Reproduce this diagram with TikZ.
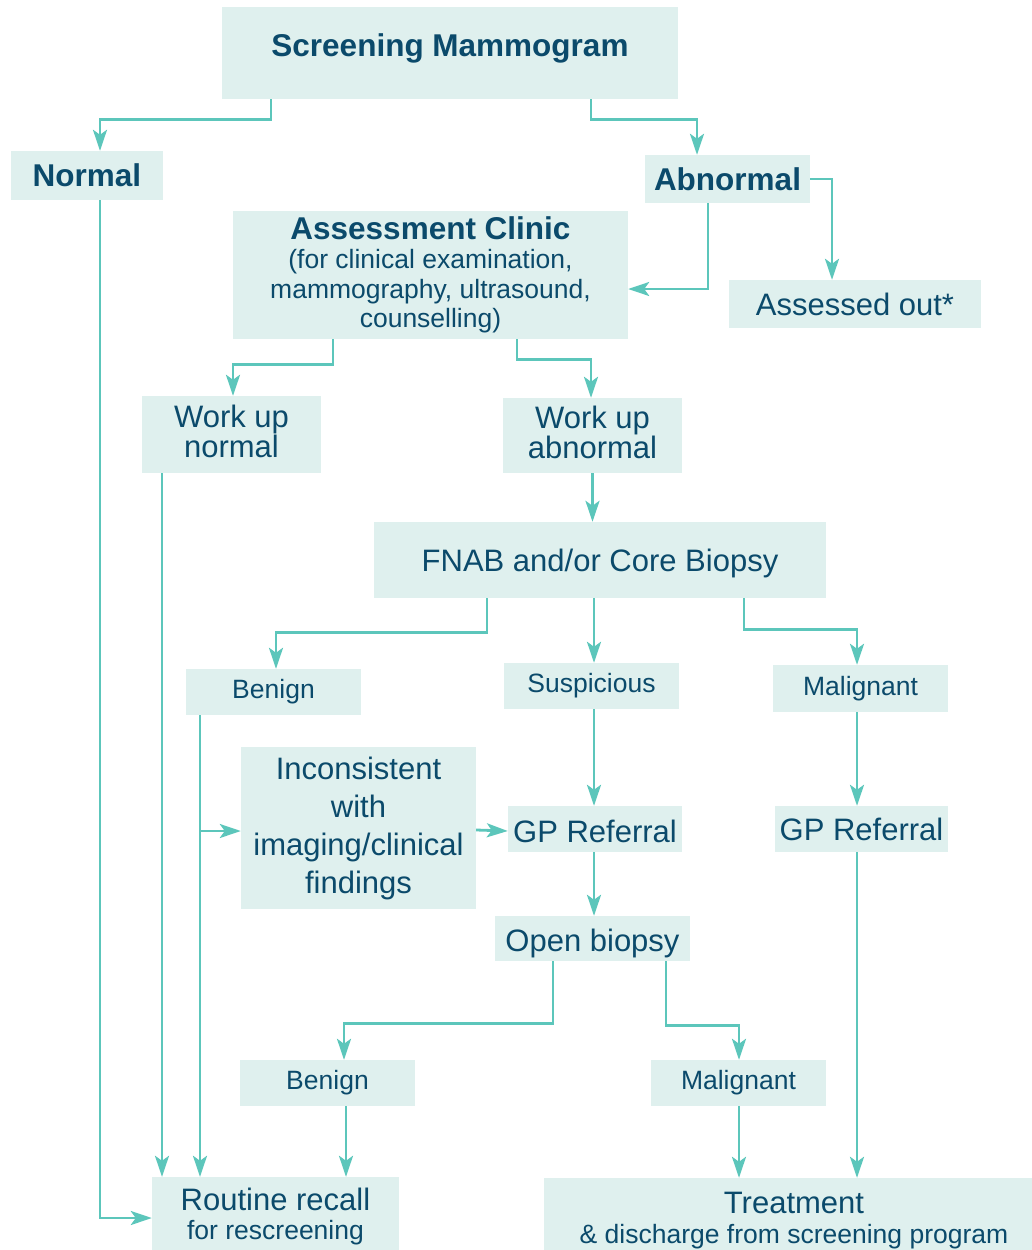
\documentclass[tikz,border=0pt]{standalone}
\usepackage{fontspec}
\setmainfont{Liberation Sans}
\usepackage{tikz}
\usetikzlibrary{arrows.meta}
\definecolor{boxfill}{HTML}{DFF0EE}
\definecolor{ink}{HTML}{0B4A6B}
\definecolor{flow}{HTML}{5CC6BB}

\begin{document}
\begin{tikzpicture}[x=1pt,y=-1pt,
    box/.style={fill=boxfill,text=ink,inner sep=0pt,align=center},
    big/.style={font=\fontsize{31}{30}\selectfont},
    head/.style={font=\fontsize{31.5}{32}\selectfont\bfseries},
    small/.style={font=\fontsize{26.5}{29.5}\selectfont},
    arr/.style={draw=flow,line width=2.8pt,-{Stealth[length=21pt,width=14pt,inset=5pt]}}]
    \useasboundingbox (0,0) rectangle (1032,1250);
    % boxes
    \node[box,head,minimum width=456,minimum height=92] (sm) at (450,53) {Screening Mammogram\rule[-15pt]{0pt}{0pt}};
    \node[box,head,minimum width=152,minimum height=49] (normal) at (87,175.5) {Normal};
    \node[box,head,minimum width=165,minimum height=48] (abn) at (727.5,179) {Abnormal};
    \node[box,small,minimum width=395,minimum height=128] (assess) at (430.5,275)
        {{\fontsize{31.5}{32}\selectfont\bfseries Assessment Clinic}\\(for clinical examination,\\mammography, ultrasound,\\counselling)};
    \node[box,big,minimum width=252,minimum height=48] (out) at (855,304) {Assessed out*};
    \node[box,big,minimum width=179,minimum height=77] (wun) at (231.5,434.5) {Work up\\normal\rule[-6pt]{0pt}{6pt}};
    \node[box,big,minimum width=179,minimum height=75] (wua) at (592.5,435.5) {Work up\\abnormal\rule[-6pt]{0pt}{6pt}};
    \node[box,big,minimum width=452,minimum height=76] (fnab) at (600,560) {\rule{0pt}{29pt}FNAB and/or Core Biopsy};
    \node[box,small,minimum width=175,minimum height=46] (ben1) at (273.5,692) {Benign};
    \node[box,small,minimum width=175,minimum height=46] (susp) at (591.5,686) {Suspicious};
    \node[box,small,minimum width=175,minimum height=47] (mal1) at (860.5,688.5) {Malignant};
    \node[box,font=\fontsize{31}{38}\selectfont,minimum width=235,minimum height=162] (inc) at (358.5,828)
        {Inconsistent\\with\\imaging/clinical\\findings};
    \node[box,big,minimum width=174,minimum height=46] (gp1) at (595,829) {\rule{0pt}{27pt}GP Referral};
    \node[box,big,minimum width=173,minimum height=46] (gp2) at (861.5,829) {GP Referral};
    \node[box,big,minimum width=195,minimum height=45] (open) at (592.5,938.5) {\rule{0pt}{33pt}Open biopsy};
    \node[box,small,minimum width=175,minimum height=46] (ben2) at (327.5,1083) {Benign};
    \node[box,small,minimum width=175,minimum height=46] (mal2) at (738.5,1083) {Malignant};
    \node[box,small,minimum width=247,minimum height=73] (recall) at (275.5,1213.5)
        {{\fontsize{31}{31}\selectfont\rule{0pt}{28pt}Routine recall}\\for rescreening};
    \node[box,small,minimum width=500,minimum height=72] (treat) at (794,1214)
        {{\fontsize{31}{31}\selectfont\rule{0pt}{34pt}Treatment}\\\& discharge from screening program};
    % connectors
    \draw[arr] ([xshift=-179pt]sm.south) -- ++(0,20) -| ([xshift=13pt]normal.north);
    \draw[arr] ([xshift=141pt]sm.south) -- ++(0,20) -| ([xshift=-30.5pt]abn.north);
    \draw[arr] (abn.east) -| ([xshift=-23pt]out.north);
    \draw[arr] ([xshift=-19.5pt]abn.south) |- ([yshift=-14pt]assess.east);
    \draw[arr] ([xshift=13pt]normal.south) |- ([yshift=-4.5pt]recall.west);
    \draw[arr] ([xshift=-97.5pt]assess.south) -- ++(0,25) -| ([xshift=1.5pt]wun.north);
    \draw[arr] ([xshift=86.5pt]assess.south) -- ++(0,20) -| ([xshift=-1.5pt]wua.north);
    \draw[arr] ([xshift=-69.5pt]wun.south) -- ([xshift=-113.5pt]recall.north);
    \draw[arr] (wua.south) -- (wua.south |- fnab.north);
    \draw[arr] ([xshift=-113pt]fnab.south) -- ++(0,34) -| ([xshift=2.5pt]ben1.north);
    \draw[arr] ([xshift=-6pt]fnab.south) -- ([xshift=2.5pt]susp.north);
    \draw[arr] ([xshift=144pt]fnab.south) -- ++(0,31) -| ([xshift=-3.5pt]mal1.north);
    \draw[arr] ([xshift=-73.5pt]ben1.south) -- ([xshift=-75.5pt]recall.north);
    \draw[arr] ([xshift=-41pt,yshift=-3pt]inc.west) -- ([yshift=-3pt]inc.west);
    \draw[arr] ([yshift=-2pt]inc.east) -- ([yshift=-2pt]gp1.west);
    \draw[arr] ([xshift=2.5pt]susp.south) -- ([xshift=-1pt]gp1.north);
    \draw[arr] ([xshift=-1pt]gp1.south) -- ([xshift=1.5pt]open.north);
    \draw[arr] ([xshift=-3.5pt]mal1.south) -- ([xshift=-4.5pt]gp2.north);
    \draw[arr] ([xshift=-4.5pt]gp2.south) -- ([xshift=63pt]treat.north);
    \draw[arr] ([xshift=-39.5pt]open.south) -- ++(0,62) -| ([xshift=16.5pt]ben2.north);
    \draw[arr] ([xshift=73.5pt]open.south) -- ++(0,64) -| ([xshift=0.5pt]mal2.north);
    \draw[arr] ([xshift=18.5pt]ben2.south) -- ([xshift=70.5pt]recall.north);
    \draw[arr] ([xshift=0.5pt]mal2.south) -- ([xshift=-55pt]treat.north);
\end{tikzpicture}
\end{document}
